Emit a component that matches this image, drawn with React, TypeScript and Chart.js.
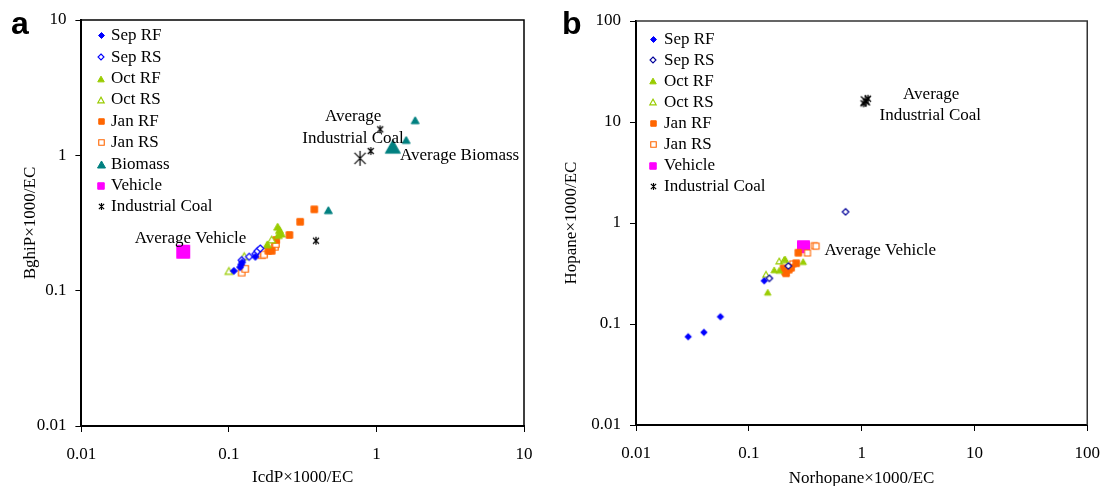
import React, { useEffect, useRef } from "react";
import { Chart, registerables } from "chart.js";

Chart.register(...registerables);

const SERIF = '"Liberation Serif", "Times New Roman", serif';
const SANS = '"Liberation Sans", Arial, sans-serif';

// ---------------- Panel a data (IcdP vs BghiP, per 1000 EC) ----------------
const aSepRFx = [0.108, 0.119, 0.121, 0.123, 0.151];
const aSepRFy = [0.14, 0.149, 0.156, 0.162, 0.178];
const aSepRSx = [0.122, 0.137, 0.151, 0.156, 0.163];
const aSepRSy = [0.168, 0.178, 0.187, 0.196, 0.205];
const aOctRFx = [0.182, 0.214, 0.22, 0.226, 0.216];
const aOctRFy = [0.22, 0.297, 0.281, 0.265, 0.258];
const aOctRSx = [0.1, 0.127, 0.195];
const aOctRSy = [0.14, 0.18, 0.239];
const aJanRFx = [0.185, 0.195, 0.209, 0.257, 0.304, 0.379];
const aJanRFy = [0.197, 0.197, 0.237, 0.258, 0.323, 0.399];
const aJanRSx = [0.122, 0.129, 0.167, 0.173, 0.205, 0.208];
const aJanRSy = [0.136, 0.145, 0.183, 0.185, 0.211, 0.221];
const aBiomassX = [0.472, 1.83, 1.59, 1.29]; // last = average
const aBiomassY = [0.394, 1.82, 1.3, 1.16];
const aVehicleX = [0.049];
const aVehicleY = [0.194];
const aCoalX = [0.389, 1.06, 0.914, 0.774]; // last = average
const aCoalY = [0.234, 1.556, 1.076, 0.95];
const aTicks = [0.01, 0.1, 1, 10];

// ---------------- Panel b data (Norhopane vs Hopane, per 1000 EC) ----------------
const bSepRFx = [0.029, 0.04, 0.056, 0.137];
const bSepRFy = [0.0748, 0.0827, 0.118, 0.268];
const bSepRSx = [0.152, 0.224, 0.72];
const bSepRSy = [0.283, 0.375, 1.29];
const bOctRFx = [0.147, 0.168, 0.186, 0.21, 0.303];
const bOctRFy = [0.206, 0.343, 0.34, 0.44, 0.414];
const bOctRSx = [0.142, 0.186, 0.205];
const bOctRSy = [0.31, 0.421, 0.43];
const bJanRFx = [0.203, 0.21, 0.214, 0.226, 0.237, 0.263, 0.275];
const bJanRFy = [0.356, 0.33, 0.318, 0.345, 0.361, 0.4, 0.508];
const bJanRSx = [0.245, 0.331, 0.38, 0.395];
const bJanRSy = [0.393, 0.505, 0.596, 0.59];
const bVehicleX = [0.305];
const bVehicleY = [0.582];
const bCoalX = [1.04, 1.14, 1.1, 1.08]; // last = average
const bCoalY = [15.3, 17.0, 16.0, 16.2];
const bXTicks = [0.01, 0.1, 1, 10, 100];
const bYTicks = [0.01, 0.1, 1, 10, 100];

const BLUE = "#0000ff";
const NAVY = "#000099";
const GREEN = "#99cc00";
const ORANGE = "#ff6600";
const TEAL = "#008080";
const MAGENTA = "#ff00ff";
const BLACK = "#000000";

type Shape = "diamond" | "triangle" | "square" | "asterisk";

function drawShape(
  ctx: CanvasRenderingContext2D,
  shape: Shape,
  cx: number,
  cy: number,
  s: number,
  color: string,
  hollow: boolean,
  lw: number
) {
  ctx.save();
  ctx.strokeStyle = color;
  ctx.fillStyle = hollow ? "#ffffff" : color;
  ctx.lineWidth = lw;
  const h = s / 2;
  ctx.beginPath();
  if (shape === "diamond") {
    ctx.moveTo(cx, cy - h);
    ctx.lineTo(cx + h, cy);
    ctx.lineTo(cx, cy + h);
    ctx.lineTo(cx - h, cy);
    ctx.closePath();
    ctx.fill();
    ctx.stroke();
  } else if (shape === "triangle") {
    const th = s * 0.88;
    ctx.moveTo(cx, cy - th / 2);
    ctx.lineTo(cx + h, cy + th / 2);
    ctx.lineTo(cx - h, cy + th / 2);
    ctx.closePath();
    ctx.fill();
    ctx.stroke();
  } else if (shape === "square") {
    ctx.rect(cx - h, cy - h, s, s);
    ctx.fill();
    ctx.stroke();
  } else {
    const d = h * 0.75;
    ctx.moveTo(cx, cy - h);
    ctx.lineTo(cx, cy + h);
    ctx.moveTo(cx - d, cy - d);
    ctx.lineTo(cx + d, cy + d);
    ctx.moveTo(cx + d, cy - d);
    ctx.lineTo(cx - d, cy + d);
    ctx.stroke();
  }
  ctx.restore();
}

function markerImg(shape: Shape, s: number, color: string, hollow = false, lw = 1): HTMLCanvasElement {
  const c = document.createElement("canvas");
  const size = Math.ceil(s + lw + 2);
  c.width = size;
  c.height = size;
  const ctx = c.getContext("2d")!;
  drawShape(ctx, shape, size / 2, size / 2, s, color, hollow, lw);
  return c;
}

const pts = (xs: number[], ys: number[]) => xs.map((x, i) => ({ x, y: ys[i] }));

type Note = { text: string; x: number; y: number; align: CanvasTextAlign };
type LegendItem = { label: string; img: HTMLCanvasElement };
type Overlay = {
  letter: string;
  letterX: number;
  letterY: number;
  notes: Note[];
  legend: LegendItem[];
  markerDx: number;
  textDx: number;
  legendTop: number;
  legendStep: number;
  frameColor: string;
};

function overlayPlugin(cfg: Overlay) {
  return {
    id: "overlay",
    afterDatasetsDraw(chart: any) {
      const { ctx, chartArea: ca, scales } = chart;
      ctx.save();
      // top + right frame
      ctx.strokeStyle = cfg.frameColor;
      ctx.lineWidth = 1.5;
      ctx.beginPath();
      ctx.moveTo(ca.left, ca.top);
      ctx.lineTo(ca.right, ca.top);
      ctx.lineTo(ca.right, ca.bottom);
      ctx.stroke();
      // annotations
      ctx.fillStyle = "#000";
      ctx.font = `17px ${SERIF}`;
      ctx.textBaseline = "middle";
      for (const n of cfg.notes) {
        ctx.textAlign = n.align;
        ctx.fillText(n.text, scales.x.getPixelForValue(n.x), scales.y.getPixelForValue(n.y));
      }
      // legend
      cfg.legend.forEach((it, i) => {
        const y = ca.top + cfg.legendTop + i * cfg.legendStep;
        ctx.drawImage(
          it.img,
          Math.round(ca.left + cfg.markerDx - it.img.width / 2),
          Math.round(y - it.img.height / 2)
        );
        ctx.textAlign = "left";
        ctx.fillText(it.label, ca.left + cfg.textDx, y);
      });
      // panel letter
      ctx.font = `bold 32px ${SANS}`;
      ctx.textBaseline = "alphabetic";
      ctx.textAlign = "left";
      ctx.fillText(cfg.letter, cfg.letterX, cfg.letterY);
      ctx.restore();
    },
  };
}

function logAxis(
  ticks: number[],
  title: string,
  horizontal: boolean,
  size: number,
  titlePad: any
) {
  return {
    type: "logarithmic",
    min: ticks[0],
    max: ticks[ticks.length - 1],
    afterBuildTicks: (s: any) => {
      s.ticks = ticks.map((v) => ({ value: v }));
    },
    afterFit: (s: any) => {
      if (horizontal) s.height = size;
      else s.width = size;
    },
    ticks: {
      callback: (v: any) => String(v),
      color: "#000",
      font: { family: SERIF, size: 17 },
      padding: horizontal ? 12 : 9,
      autoSkip: false,
      maxRotation: 0,
    },
    grid: {
      drawOnChartArea: false,
      drawTicks: true,
      tickLength: 6,
      color: "#000",
      lineWidth: 1,
    },
    border: { display: true, color: "#000", width: 2 },
    title: {
      display: true,
      text: title,
      color: "#000",
      font: { family: SERIF, size: 17 },
      padding: titlePad,
    },
  };
}

function ds(label: string, xs: number[], ys: number[], style: any) {
  return {
    label,
    data: pts(xs, ys),
    pointStyle: style,
    pointRadius: 4,
    showLine: false,
  };
}

function buildA() {
  const datasets = [
    ds("Sep RF", aSepRFx, aSepRFy, markerImg("diamond", 7, BLUE)),
    ds("Sep RS", aSepRSx, aSepRSy, markerImg("diamond", 7, BLUE, true, 1.2)),
    ds("Oct RF", aOctRFx, aOctRFy, markerImg("triangle", 8, GREEN)),
    ds("Oct RS", aOctRSx, aOctRSy, markerImg("triangle", 7.5, GREEN, true, 1.2)),
    ds("Jan RF", aJanRFx, aJanRFy, markerImg("square", 6.5, ORANGE)),
    ds("Jan RS", aJanRSx, aJanRSy, markerImg("square", 6.5, ORANGE, true, 1.2)),
    ds("Biomass", aBiomassX, aBiomassY, [
      markerImg("triangle", 8, TEAL),
      markerImg("triangle", 8, TEAL),
      markerImg("triangle", 8, TEAL),
      markerImg("triangle", 15, TEAL),
    ]),
    ds("Vehicle", aVehicleX, aVehicleY, markerImg("square", 13, MAGENTA)),
    ds("Industrial Coal", aCoalX, aCoalY, [
      markerImg("asterisk", 8, BLACK, false, 1.2),
      markerImg("asterisk", 8, BLACK, false, 1.2),
      markerImg("asterisk", 8, BLACK, false, 1.2),
      markerImg("asterisk", 15, BLACK, false, 1.2),
    ]),
  ];
  const legend: LegendItem[] = [
    { label: "Sep RF", img: markerImg("diamond", 6, BLUE) },
    { label: "Sep RS", img: markerImg("diamond", 6, BLUE, true, 1.1) },
    { label: "Oct RF", img: markerImg("triangle", 6.5, GREEN) },
    { label: "Oct RS", img: markerImg("triangle", 6.5, GREEN, true, 1.1) },
    { label: "Jan RF", img: markerImg("square", 5.5, ORANGE) },
    { label: "Jan RS", img: markerImg("square", 5.5, ORANGE, true, 1.1) },
    { label: "Biomass", img: markerImg("triangle", 8, TEAL) },
    { label: "Vehicle", img: markerImg("square", 6.5, MAGENTA) },
    { label: "Industrial Coal", img: markerImg("asterisk", 7, BLACK, false, 1.2) },
  ];
  const notes: Note[] = [
    { text: "Average", x: 0.694, y: 1.95, align: "center" },
    { text: "Industrial Coal", x: 0.694, y: 1.335, align: "center" },
    { text: "Average Biomass", x: 1.445, y: 1.005, align: "left" },
    { text: "Average Vehicle", x: 0.0549, y: 0.2435, align: "center" },
  ];
  return {
    type: "scatter",
    data: { datasets },
    options: {
      responsive: false,
      animation: false,
      layout: { padding: { left: 0, right: 27, top: 20, bottom: 0 } },
      plugins: { legend: { display: false }, tooltip: { enabled: false } },
      scales: {
        x: logAxis(aTicks, "IcdP×1000/EC", true, 60, { top: 0, bottom: -2 }),
        y: logAxis(aTicks, "BghiP×1000/EC", false, 81.4, { top: 20, bottom: 0 }),
      },
    },
    plugins: [
      overlayPlugin({
        letter: "a",
        letterX: 11,
        letterY: 34,
        notes,
        legend,
        markerDx: 19.6,
        textDx: 29.6,
        legendTop: 15.7,
        legendStep: 21.4,
        frameColor: "#000",
      }),
    ],
  };
}

function buildB() {
  const datasets = [
    ds("Sep RF", bSepRFx, bSepRFy, markerImg("diamond", 6.5, BLUE)),
    ds("Sep RS", bSepRSx, bSepRSy, markerImg("diamond", 6.5, NAVY, true, 1.2)),
    ds("Oct RF", bOctRFx, bOctRFy, markerImg("triangle", 6.5, GREEN)),
    ds("Oct RS", bOctRSx, bOctRSy, markerImg("triangle", 6.5, GREEN, true, 1.1)),
    ds("Jan RF", bJanRFx, bJanRFy, markerImg("square", 6.5, ORANGE)),
    ds("Jan RS", bJanRSx, bJanRSy, markerImg("square", 6, ORANGE, true, 1.1)),
    ds("Vehicle", bVehicleX, bVehicleY, markerImg("square", 12, MAGENTA)),
    ds("Industrial Coal", bCoalX, bCoalY, [
      markerImg("asterisk", 8, BLACK, false, 1.2),
      markerImg("asterisk", 8, BLACK, false, 1.2),
      markerImg("asterisk", 8, BLACK, false, 1.2),
      markerImg("asterisk", 12, BLACK, false, 1.2),
    ]),
  ];
  const legend: LegendItem[] = [
    { label: "Sep RF", img: markerImg("diamond", 6, BLUE) },
    { label: "Sep RS", img: markerImg("diamond", 6, NAVY, true, 1.1) },
    { label: "Oct RF", img: markerImg("triangle", 6.5, GREEN) },
    { label: "Oct RS", img: markerImg("triangle", 6.5, GREEN, true, 1.1) },
    { label: "Jan RF", img: markerImg("square", 5.5, ORANGE) },
    { label: "Jan RS", img: markerImg("square", 5.5, ORANGE, true, 1.1) },
    { label: "Vehicle", img: markerImg("square", 6.5, MAGENTA) },
    { label: "Industrial Coal", img: markerImg("asterisk", 7, BLACK, false, 1.2) },
  ];
  const notes: Note[] = [
    { text: "Average", x: 4.14, y: 18.9, align: "center" },
    { text: "Industrial Coal", x: 4.06, y: 11.7, align: "center" },
    { text: "Average Vehicle", x: 0.469, y: 0.532, align: "left" },
  ];
  return {
    type: "scatter",
    data: { datasets },
    options: {
      responsive: false,
      animation: false,
      layout: { padding: { left: 0, right: 0, top: 21, bottom: 0 } },
      plugins: { legend: { display: false }, tooltip: { enabled: false } },
      scales: {
        x: logAxis(bXTicks, "Norhopane×1000/EC", true, 61, { top: 0, bottom: -3 }),
        y: logAxis(bYTicks, "Hopane×1000/EC", false, 85, { top: 10, bottom: 0 }),
      },
    },
    plugins: [
      overlayPlugin({
        letter: "b",
        letterX: 11,
        letterY: 34,
        notes,
        legend,
        markerDx: 17.3,
        textDx: 28,
        legendTop: 18.3,
        legendStep: 21.06,
        frameColor: "#333",
      }),
    ],
  };
}

function Panel({ build, left, width }: { build: () => any; left: number; width: number }) {
  const ref = useRef<HTMLCanvasElement | null>(null);
  useEffect(() => {
    if (!ref.current) return;
    const chart = new Chart(ref.current, build());
    return () => chart.destroy();
  }, [build]);
  return (
    <canvas
      ref={ref}
      width={width}
      height={486}
      style={{ position: "absolute", left, top: 0, width, height: 486 }}
    />
  );
}

export default function App() {
  return (
    <div
      style={{
        position: "absolute",
        left: 0,
        top: 0,
        width: 1102,
        height: 486,
        background: "#fff",
        overflow: "hidden",
      }}
    >
      <Panel build={buildA} left={0} width={551} />
      <Panel build={buildB} left={551} width={561} />
    </div>
  );
}
